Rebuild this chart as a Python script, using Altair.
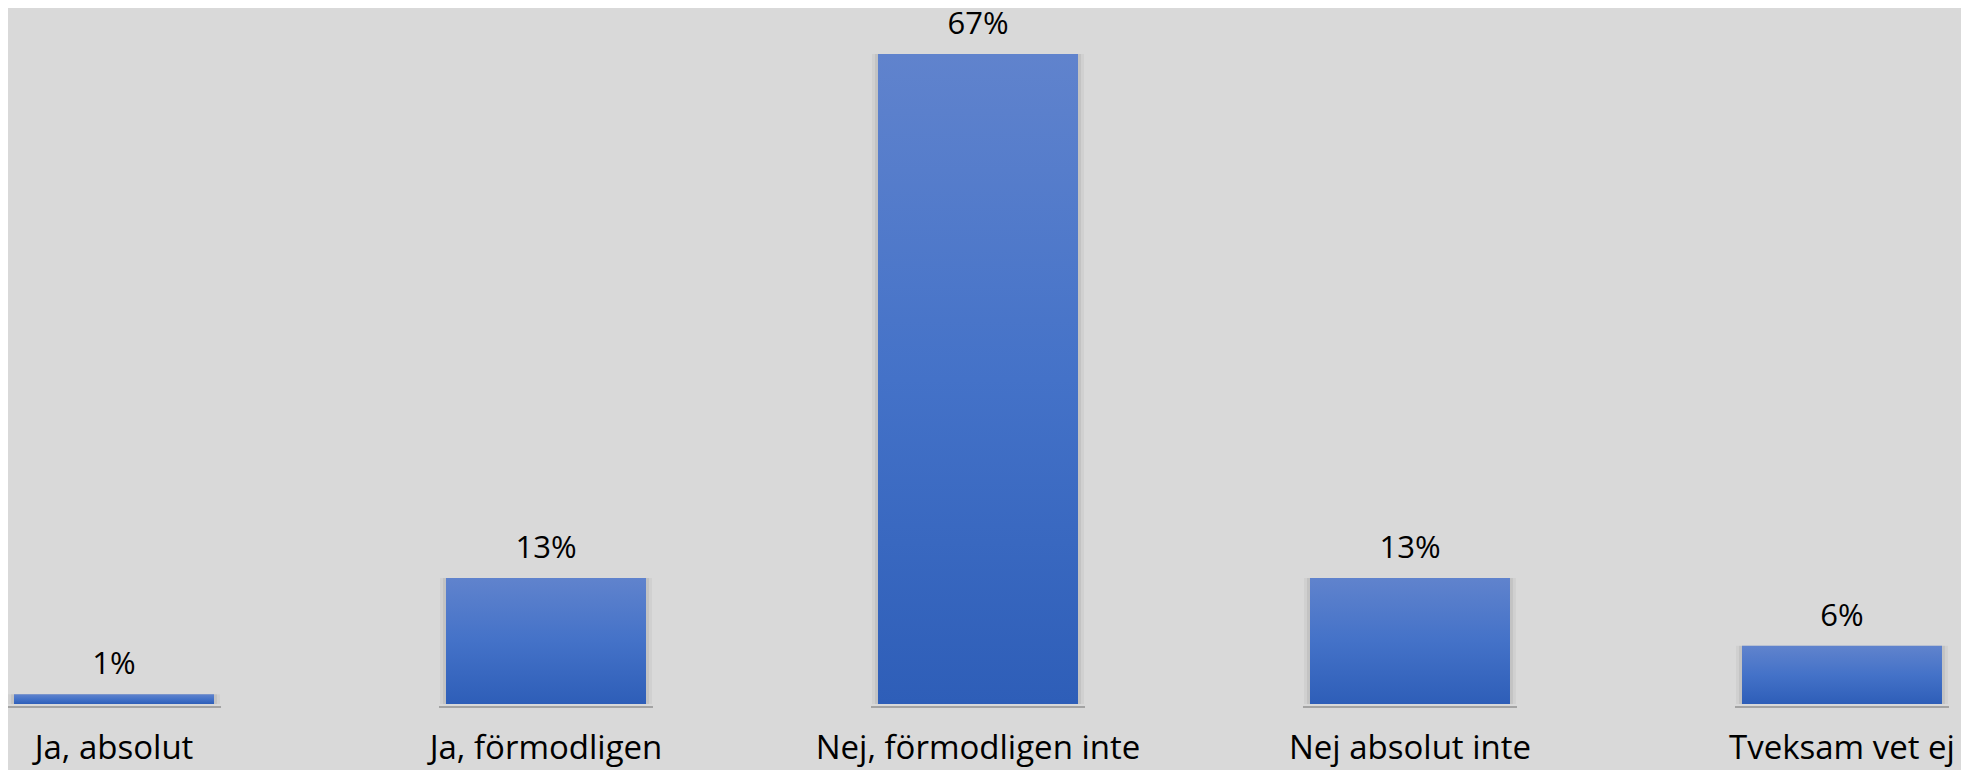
import altair as alt
import pandas as pd

categories = ["Ja, absolut", "Ja, förmodligen", "Nej, förmodligen inte", "Nej absolut inte", "Tveksam vet ej"]
values = [1, 13, 67, 13, 6]
labels = ["1%", "13%", "67%", "13%", "6%"]

df = pd.DataFrame({"cat": categories, "val": values, "lab": labels})

FONT = "Open Sans"
xenc = alt.X("cat:N", sort=categories, title=None,
             scale=alt.Scale(paddingInner=0.537, paddingOuter=0),
             axis=alt.Axis(domain=False, ticks=False, tickSize=0, labelAngle=0,
                           labelFont=FONT, labelFontSize=33, labelColor="#000000",
                           labelBaseline="alphabetic", labelPadding=54,
                           labelLimit=2000, labelOverlap=False, grid=False))
yscale = alt.Scale(domain=[0, 67], nice=False, zero=True)
yenc = alt.Y("val:Q", scale=yscale, axis=None)

base = alt.Chart(df)

shadow1 = base.mark_bar(size=212, color="#000000", opacity=0.04).encode(x=xenc, y=yenc)
shadow2 = base.mark_bar(size=206, color="#000000", opacity=0.06).encode(x=xenc, y=yenc)
baseline = base.mark_tick(orient="horizontal", size=214, thickness=2, color="#8c8c8c",
                          yOffset=3).encode(x=xenc, y=alt.Y("z:Q", scale=yscale, axis=None)).transform_calculate(z="0")

grad = alt.Gradient(gradient="linear",
                    stops=[alt.GradientStop(color="#6083CD", offset=0),
                           alt.GradientStop(color="#4472C8", offset=0.5),
                           alt.GradientStop(color="#2E5EB8", offset=1)],
                    x1=0, x2=0, y1=0, y2=1)
bars = base.mark_bar(size=200, color=grad).encode(x=xenc, y=yenc)

text = base.mark_text(font=FONT, fontSize=31, color="#000000", baseline="alphabetic",
                      dy=-20).encode(x=xenc, y=yenc, text="lab:N")

chart = alt.layer(shadow1, shadow2, baseline, bars, text).properties(
    width=1928, height=650,
    background="#D9D9D9",
    autosize=alt.AutoSizeParams(type="none"),
    padding={"left": 6, "top": 46, "right": 19, "bottom": 70},
).configure_view(stroke=None)

chart.save("out.html", embed_options={"renderer": "svg", "actions": False})
